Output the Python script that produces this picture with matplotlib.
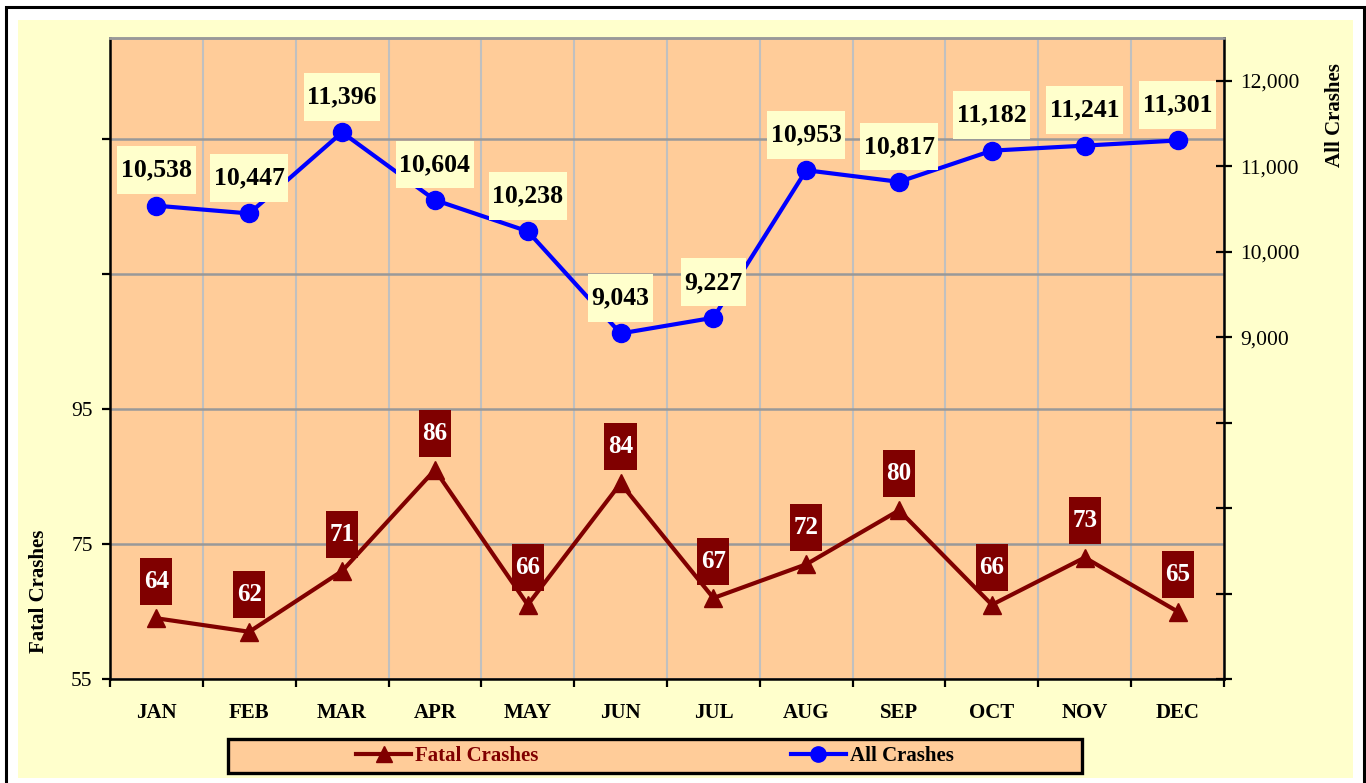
import matplotlib
matplotlib.use('Agg')
import matplotlib.pyplot as plt
from matplotlib.patches import Rectangle
from matplotlib.path import Path
from matplotlib.lines import Line2D
from matplotlib.font_manager import FontProperties

# ---- data ----
months = ['JAN', 'FEB', 'MAR', 'APR', 'MAY', 'JUN', 'JUL', 'AUG', 'SEP', 'OCT', 'NOV', 'DEC']
fatal = [64, 62, 71, 86, 66, 84, 67, 72, 80, 66, 73, 65]
all_crashes = [10538, 10447, 11396, 10604, 10238, 9043, 9227, 10953, 10817, 11182, 11241, 11301]
left_ticks = [55, 75, 95, 115, 135]
left_labels = ['55', '75', '95', '', '']
right_ticks = [5000, 6000, 7000, 8000, 9000, 10000, 11000, 12000]
right_labels = ['', '', '', '', '9,000', '10,000', '11,000', '12,000']
series_names = ['Fatal Crashes', 'All Crashes']

FONT = 'Liberation Serif'
plt.rcParams['font.family'] = [FONT, 'DejaVu Serif']

DARK_RED = '#800000'
BLUE = '#0000FF'
PEACH = '#FFCC99'
CREAM = '#FFFFCC'

W, H = 1366, 783
fig = plt.figure(figsize=(W / 100, H / 100), dpi=100)
fig.patch.set_facecolor('white')


def fx(px):
    return px / W


def fy(py):
    return 1 - py / H


# background panel and outer border
fig.add_artist(Rectangle((fx(18), fy(778)), fx(1353) - fx(18), fy(20) - fy(778),
                         transform=fig.transFigure, facecolor=CREAM, edgecolor='none', zorder=0))
fig.add_artist(Rectangle((fx(6), fy(800)), fx(1364) - fx(6), fy(7) - fy(800),
                         transform=fig.transFigure, facecolor='none', edgecolor='black',
                         linewidth=2.2, zorder=0.5))

ax = fig.add_axes([fx(110), fy(679), (1224 - 110) / W, (679 - 38) / H])
ax.set_facecolor(PEACH)
ax2 = ax.twinx()

x = list(range(len(months)))

# ---- fatal crashes (left axis) ----
ax.plot(x, fatal, color=DARK_RED, lw=3, marker='^', ms=13, zorder=3, clip_on=False)
ax.set_ylim(55, 150)
ax.set_xlim(-0.5, len(months) - 0.5)
ax.set_yticks(left_ticks)
ax.set_yticklabels(left_labels, fontsize=15.5)
ax.set_xticks(x)
ax.set_xticklabels(months, fontsize=15, fontweight='bold')
ax.set_xticks([i - 0.5 for i in range(len(months) + 1)], minor=True)
ax.tick_params(axis='x', which='major', length=0, pad=17.5)
ax.tick_params(axis='x', which='minor', length=5.5, width=1.6, direction='out', color='black')
ax.tick_params(axis='y', which='major', length=5.5, width=1.6, direction='out', pad=7)
ax.yaxis.grid(True, color='#999999', lw=1.8, zorder=0)
ax.xaxis.grid(True, which='minor', color='#C0C0C0', lw=1.5, zorder=0)
ax.set_axisbelow(True)
ax.set_ylabel('Fatal Crashes', fontsize=15, fontweight='bold')
ax.yaxis.set_label_coords((49 - 110) / 1114, (679 - 591) / 641)


def label_box(x0, y0, width, height, mutation_size):
    px = 0.14 * mutation_size
    py = 0.48 * mutation_size
    a, b = x0 - px, y0 - py
    c, d = x0 + width + px, y0 + height + py
    return Path([(a, b), (c, b), (c, d), (a, d), (a, b)], closed=True)


for i, v in enumerate(fatal):
    ax.annotate(str(v), xy=(i, v), xytext=(0, 26.5), textcoords='offset points',
                ha='center', va='center', fontsize=18, fontweight='bold', color='white',
                bbox=dict(boxstyle=label_box, facecolor=DARK_RED, edgecolor='none'), zorder=5)

# ---- all crashes (right axis) ----
ax2.plot(x, all_crashes, color=BLUE, lw=3, marker='o', ms=13, zorder=3)
ax2.set_ylim(5000, 12500)
ax2.set_yticks(right_ticks)
ax2.set_yticklabels(right_labels, fontsize=15.5)
ax2.tick_params(axis='y', which='major', length=11, width=1.6, direction='inout', pad=6.5)
ax2.set_ylabel('All Crashes', fontsize=15, fontweight='bold')
ax2.yaxis.set_label_coords((1325 - 110) / 1114, (679 - 115) / 641)

for i, v in enumerate(all_crashes):
    ax2.annotate(f'{v:,}', xy=(i, v), xytext=(0, 25.5), textcoords='offset points',
                 ha='center', va='center', fontsize=18.5, fontweight='bold', color='black',
                 bbox=dict(boxstyle=label_box, facecolor=CREAM, edgecolor='none'), zorder=5)

# spines
for a in (ax, ax2):
    a.spines['top'].set_color('#999999')
    a.spines['top'].set_linewidth(1.8)
    a.spines['bottom'].set_linewidth(1.8)
    a.spines['left'].set_linewidth(1.8)
    a.spines['right'].set_linewidth(1.8)
ax2.spines['left'].set_visible(False)
ax2.spines['bottom'].set_visible(False)
ax.spines['right'].set_visible(False)

# ---- legend ----
fig.add_artist(Rectangle((fx(228), fy(773)), fx(1082) - fx(228), fy(739) - fy(773),
                         transform=fig.transFigure, facecolor=PEACH, edgecolor='black',
                         linewidth=2.4, zorder=1))
handles = [Line2D([], [], color=DARK_RED, lw=3, marker='^', ms=11),
           Line2D([], [], color=BLUE, lw=3, marker='o', ms=11)]
leg = fig.legend(handles, series_names, loc='center', bbox_to_anchor=(fx(655), fy(756)),
                 ncol=2, frameon=False,
                 prop=FontProperties(family=FONT, weight='bold', size=15),
                 handlelength=2.65, handletextpad=0.2, columnspacing=12.1)
leg.set_zorder(2)
leg.get_texts()[0].set_color(DARK_RED)
leg.get_texts()[1].set_color('black')

fig.savefig('out.png', dpi=100)
